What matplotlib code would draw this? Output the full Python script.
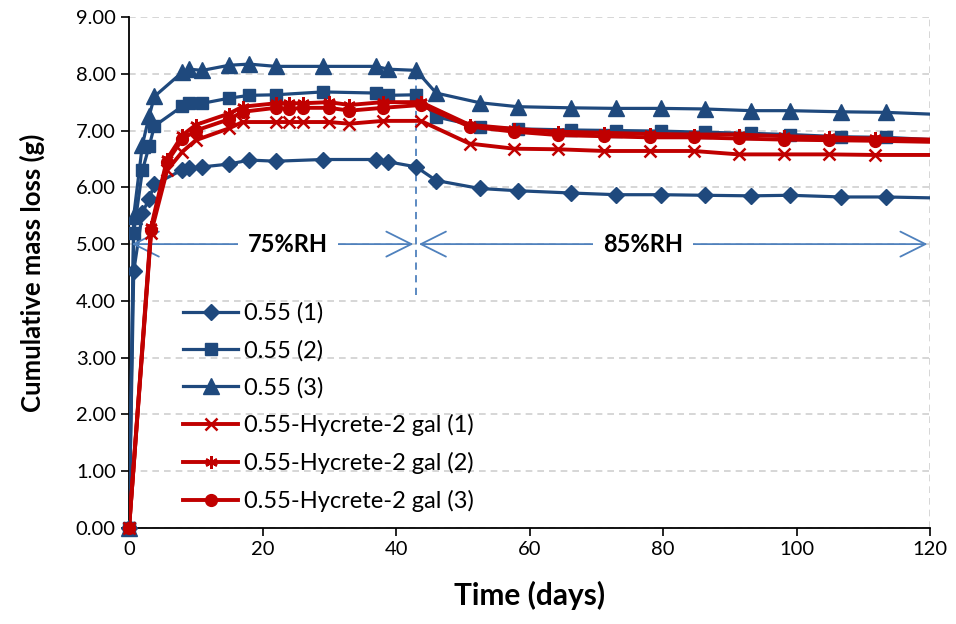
import numpy as np
import matplotlib.pyplot as plt

# czasy pomiarow (dni)
t_ref = [0, 0.7, 2.0, 3.0, 3.8, 8, 9, 11, 15, 18, 22, 29, 37, 38.8, 43, 46, 52.5, 58.2,
         66.2, 73, 79.7, 86.2, 93.2, 99, 106.7, 113.4, 122]
t_hyc = [0, 3.3, 5.7, 8, 10, 15, 17, 22, 24, 26, 30, 33, 38, 43.7, 51, 57.7, 64.3, 71.2,
         78, 84.6, 91.3, 98.1, 104.9, 111.7, 125]

# skumulowany ubytek masy (g)
ref_1 = [0, 4.52, 5.55, 5.80, 6.05, 6.31, 6.34, 6.36, 6.41, 6.48, 6.46, 6.49, 6.49, 6.45,
         6.36, 6.12, 5.98, 5.94, 5.90, 5.87, 5.87, 5.86, 5.85, 5.86, 5.83, 5.83, 5.81]
ref_2 = [0, 5.20, 6.30, 6.72, 7.08, 7.43, 7.48, 7.48, 7.57, 7.62, 7.63, 7.68, 7.66, 7.62,
         7.63, 7.24, 7.07, 7.03, 7.01, 7.00, 6.99, 6.97, 6.95, 6.93, 6.89, 6.88, 6.83]
ref_3 = [0, 5.50, 6.75, 7.25, 7.60, 8.03, 8.08, 8.06, 8.15, 8.17, 8.13, 8.13, 8.13, 8.08,
         8.06, 7.66, 7.49, 7.42, 7.40, 7.39, 7.39, 7.38, 7.35, 7.35, 7.33, 7.32, 7.28]
hyc_1 = [0, 5.20, 6.30, 6.63, 6.83, 7.04, 7.15, 7.15, 7.15, 7.15, 7.15, 7.12, 7.17, 7.17,
         6.77, 6.68, 6.67, 6.64, 6.64, 6.64, 6.58, 6.58, 6.58, 6.57, 6.57]
hyc_2 = [0, 5.30, 6.50, 6.92, 7.10, 7.30, 7.42, 7.48, 7.48, 7.48, 7.50, 7.45, 7.50, 7.50,
         7.10, 7.03, 6.98, 6.96, 6.94, 6.93, 6.93, 6.90, 6.88, 6.86, 6.83]
hyc_3 = [0, 5.25, 6.45, 6.85, 7.00, 7.20, 7.33, 7.40, 7.38, 7.40, 7.40, 7.35, 7.40, 7.45,
         7.07, 6.98, 6.92, 6.90, 6.88, 6.88, 6.86, 6.84, 6.83, 6.82, 6.79]

labels = ["0.55 (1)", "0.55 (2)", "0.55 (3)",
          "0.55-Hycrete-2 gal (1)", "0.55-Hycrete-2 gal (2)", "0.55-Hycrete-2 gal (3)"]

rh_split = 43          # zmiana wilgotnosci
rh_labels = ["75%RH", "85%RH"]

BLUE = "#1F497D"
RED = "#C00000"
ARROW = "#4F81BD"

plt.rcParams['font.family'] = ['Lato', 'DejaVu Sans']

fig = plt.figure(figsize=(9.56, 6.24), dpi=100)
ax = fig.add_axes([0.135, 0.1538, 0.838, 0.819])

series = [
    (t_ref, ref_1, BLUE, 2.3, dict(marker="D", ms=8.5)),
    (t_ref, ref_2, BLUE, 2.3, dict(marker="s", ms=8.5)),
    (t_ref, ref_3, BLUE, 2.3, dict(marker="^", ms=11)),
    (t_hyc, hyc_1, RED, 2.8, dict(marker="x", ms=8, mew=1.8)),
    (t_hyc, hyc_2, RED, 2.8, dict(marker=(6, 2, 0), ms=9, mew=1.8)),
    (t_hyc, hyc_3, RED, 2.8, dict(marker="o", ms=8.5)),
]
for i, (t, y, c, lw, mk) in enumerate(series):
    z = 3 if c == BLUE else 4
    ax.plot(t, y, color=c, lw=lw, label=labels[i], zorder=z, **mk)
    # punkt startowy na osi, bez przycinania
    ax.plot(t[:1], y[:1], color=c, lw=0, zorder=z, clip_on=False, **mk)

ax.set_xlim(0, 120)
ax.set_ylim(0, 9)
ax.set_xticks(np.arange(0, 121, 20))
ax.set_yticks(np.arange(0, 9.1, 1))
ax.set_yticklabels([f"{v:.2f}" for v in np.arange(0, 9.1, 1)])
ax.tick_params(labelsize=14.5, direction="out", length=6, width=1.2)
ax.yaxis.grid(True, ls=(0, (4, 3)), color="#D0D0D0", lw=1.2)
ax.axvline(120, ls=(0, (4, 3)), color="#D0D0D0", lw=1.2)
ax.set_axisbelow(True)
for s in ["top", "right"]:
    ax.spines[s].set_visible(False)
for s in ["left", "bottom"]:
    ax.spines[s].set_linewidth(1.3)

# strzalki RH
ax.annotate("", xy=(0, 5.0), xytext=(rh_split, 5.0),
            arrowprops=dict(arrowstyle="<->", color=ARROW, lw=1.3, mutation_scale=45))
ax.annotate("", xy=(rh_split, 5.0), xytext=(120, 5.0),
            arrowprops=dict(arrowstyle="<->", color=ARROW, lw=1.3, mutation_scale=45))
ax.plot([rh_split, rh_split], [4.1, 7.9], color=ARROW, lw=1.3, ls=(0, (4, 3)), zorder=2)
ax.text(23.8, 5.0, rh_labels[0], ha="center", va="center", fontsize=17, fontweight="bold",
        bbox=dict(facecolor="white", edgecolor="none", pad=7), zorder=5)
ax.text(77, 5.0, rh_labels[1], ha="center", va="center", fontsize=17, fontweight="bold",
        bbox=dict(facecolor="white", edgecolor="none", pad=7), zorder=5)

ax.set_xlabel("Time (days)", fontsize=21.5, fontweight="bold", labelpad=16)
ax.set_ylabel("Cumulative mass loss (g)", fontsize=18.5, fontweight="bold", labelpad=22)

h, l = ax.get_legend_handles_labels()
ax.legend(h[:6], l[:6], loc="upper left", bbox_to_anchor=(0.056, 0.46), frameon=False,
          fontsize=17, handlelength=2.3, labelspacing=0.67, handletextpad=0.25, borderaxespad=0)

fig.savefig("out.png", dpi=100)
